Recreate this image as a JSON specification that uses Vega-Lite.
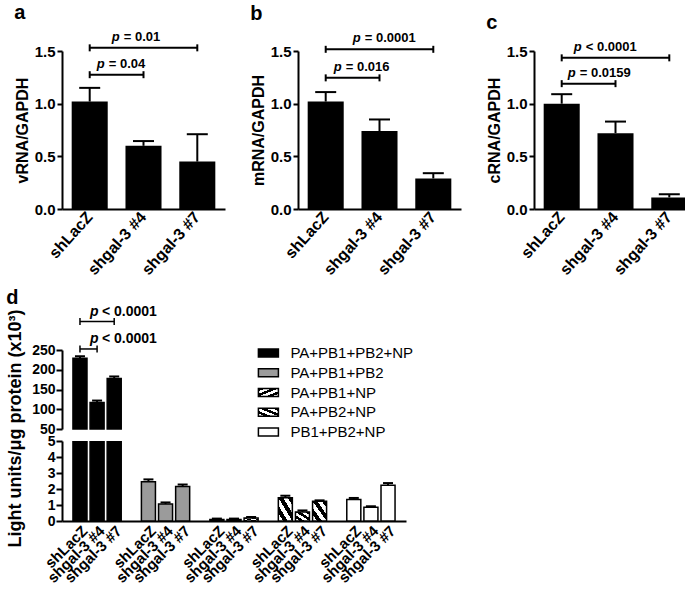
{
  "$schema": "https://vega.github.io/schema/vega-lite/v6.json",
  "padding": {"left": 6, "top": 2, "right": 0, "bottom": 0},
  "spacing": 9,
  "datasets": {
    "rna": [
      {"panel": "a", "sample": "shLacZ", "value": 1.02, "upper": 1.15},
      {"panel": "a", "sample": "shgal-3 #4", "value": 0.6, "upper": 0.645},
      {"panel": "a", "sample": "shgal-3 #7", "value": 0.45, "upper": 0.71},
      {"panel": "b", "sample": "shLacZ", "value": 1.02, "upper": 1.11},
      {"panel": "b", "sample": "shgal-3 #4", "value": 0.74, "upper": 0.85},
      {"panel": "b", "sample": "shgal-3 #7", "value": 0.29, "upper": 0.34},
      {"panel": "c", "sample": "shLacZ", "value": 1.0, "upper": 1.09},
      {"panel": "c", "sample": "shgal-3 #4", "value": 0.72, "upper": 0.83},
      {"panel": "c", "sample": "shgal-3 #7", "value": 0.11, "upper": 0.14}
    ],
    "brk": [
      {"panel": "a", "from": "shLacZ", "to": "shgal-3 #4", "level": 1.275, "label": "= 0.04", "kind": "adj"},
      {"panel": "a", "from": "shLacZ", "to": "shgal-3 #7", "level": 1.53, "label": "= 0.01", "kind": "wide"},
      {"panel": "b", "from": "shLacZ", "to": "shgal-3 #4", "level": 1.245, "label": "= 0.016", "kind": "adj"},
      {"panel": "b", "from": "shLacZ", "to": "shgal-3 #7", "level": 1.516, "label": "= 0.0001", "kind": "wide"},
      {"panel": "c", "from": "shLacZ", "to": "shgal-3 #4", "level": 1.19, "label": "= 0.0159", "kind": "adj"},
      {"panel": "c", "from": "shLacZ", "to": "shgal-3 #7", "level": 1.435, "label": "< 0.0001", "kind": "wide"}
    ],
    "lum": [
      {"mix": "PA+PB1+PB2+NP", "sample": "shLacZ", "bar": "PA+PB1+PB2+NP|shLacZ", "value": 229, "upper": 234},
      {"mix": "PA+PB1+PB2+NP", "sample": "shgal-3 #4", "bar": "PA+PB1+PB2+NP|shgal-3 #4", "value": 117, "upper": 122},
      {"mix": "PA+PB1+PB2+NP", "sample": "shgal-3 #7", "bar": "PA+PB1+PB2+NP|shgal-3 #7", "value": 178, "upper": 183},
      {"mix": "PA+PB1+PB2", "sample": "shLacZ", "bar": "PA+PB1+PB2|shLacZ", "value": 2.46, "upper": 2.6},
      {"mix": "PA+PB1+PB2", "sample": "shgal-3 #4", "bar": "PA+PB1+PB2|shgal-3 #4", "value": 1.06, "upper": 1.16},
      {"mix": "PA+PB1+PB2", "sample": "shgal-3 #7", "bar": "PA+PB1+PB2|shgal-3 #7", "value": 2.15, "upper": 2.28},
      {"mix": "PA+PB1+NP", "sample": "shLacZ", "bar": "PA+PB1+NP|shLacZ", "value": 0.1, "upper": 0.15},
      {"mix": "PA+PB1+NP", "sample": "shgal-3 #4", "bar": "PA+PB1+NP|shgal-3 #4", "value": 0.1, "upper": 0.15},
      {"mix": "PA+PB1+NP", "sample": "shgal-3 #7", "bar": "PA+PB1+NP|shgal-3 #7", "value": 0.18, "upper": 0.25},
      {"mix": "PA+PB2+NP", "sample": "shLacZ", "bar": "PA+PB2+NP|shLacZ", "value": 1.46, "upper": 1.58},
      {"mix": "PA+PB2+NP", "sample": "shgal-3 #4", "bar": "PA+PB2+NP|shgal-3 #4", "value": 0.57, "upper": 0.66},
      {"mix": "PA+PB2+NP", "sample": "shgal-3 #7", "bar": "PA+PB2+NP|shgal-3 #7", "value": 1.23, "upper": 1.29},
      {"mix": "PB1+PB2+NP", "sample": "shLacZ", "bar": "PB1+PB2+NP|shLacZ", "value": 1.34, "upper": 1.44},
      {"mix": "PB1+PB2+NP", "sample": "shgal-3 #4", "bar": "PB1+PB2+NP|shgal-3 #4", "value": 0.86, "upper": 0.92},
      {"mix": "PB1+PB2+NP", "sample": "shgal-3 #7", "bar": "PB1+PB2+NP|shgal-3 #7", "value": 2.23, "upper": 2.37}
    ],
    "lbrk": [
      {"from": "PA+PB1+PB2+NP|shLacZ", "to": "PA+PB1+PB2+NP|shgal-3 #4", "level": 252.6, "label": "< 0.0001"},
      {"from": "PA+PB1+PB2+NP|shLacZ", "to": "PA+PB1+PB2+NP|shgal-3 #7", "level": 322, "label": "< 0.0001"}
    ],
    "mixes": [
      {"mix": "PA+PB1+PB2+NP"},
      {"mix": "PA+PB1+PB2"},
      {"mix": "PA+PB1+NP"},
      {"mix": "PA+PB2+NP"},
      {"mix": "PB1+PB2+NP"}
    ]
  },
  "vconcat": [
    {
      "spacing": 25,
      "hconcat": [
        {
          "title": "a",
          "width": 163, "height": 158,
          "layer": [
            {"data": {"name": "rna"}, "transform": [{"filter": "datum.panel === 'a'"}],
             "mark": {"type": "bar", "color": "black"},
             "encoding": {
               "x": {"field": "sample", "type": "nominal", "scale": {"domain": ["shLacZ", "shgal-3 #4", "shgal-3 #7"], "paddingInner": 0.33, "paddingOuter": 0.18}, "axis": {"title": null, "ticks": false, "labelAngle": -48, "labelFontSize": 16, "labelPadding": 5}},
               "y": {"field": "value", "type": "quantitative", "scale": {"domain": [0, 1.5], "nice": false}, "axis": {"title": "vRNA/GAPDH", "values": [0, 0.5, 1, 1.5], "format": ".1f", "labelFontSize": 15, "tickSize": 5, "labelPadding": 2, "titleFontSize": 16, "titlePadding": 4}}
             }},
            {"data": {"name": "rna"}, "transform": [{"filter": "datum.panel === 'a'"}],
             "mark": {"type": "rule", "color": "black", "strokeWidth": 2},
             "encoding": {"x": {"field": "sample", "type": "nominal"}, "y": {"field": "value", "type": "quantitative"}, "y2": {"field": "upper"}}},
            {"data": {"name": "rna"}, "transform": [{"filter": "datum.panel === 'a'"}],
             "mark": {"type": "tick", "color": "black", "size": 21, "thickness": 2, "opacity": 1},
             "encoding": {"x": {"field": "sample", "type": "nominal"}, "y": {"field": "upper", "type": "quantitative"}}},
            {"data": {"name": "brk"}, "transform": [{"filter": "datum.panel === 'a'"}],
             "mark": {"type": "rule", "color": "black", "strokeWidth": 2},
             "encoding": {"x": {"field": "from", "type": "nominal"}, "x2": {"field": "to"}, "y": {"field": "level", "type": "quantitative"}}},
            {"data": {"name": "brk"}, "transform": [{"filter": "datum.panel === 'a'"}, {"fold": ["from", "to"], "as": ["end", "cat"]}],
             "mark": {"type": "rule", "color": "black", "strokeWidth": 2, "yOffset": -3.5, "y2Offset": 3.5},
             "encoding": {"x": {"field": "cat", "type": "nominal"}, "y": {"field": "level", "type": "quantitative"}, "y2": {"field": "level"}}},
            {"data": {"name": "brk"}, "transform": [{"filter": "datum.panel === 'a' && datum.kind === 'adj'"}],
             "mark": {"type": "text", "text": "p", "fontStyle": "italic", "fontWeight": "bold", "fontSize": 13, "align": "left", "baseline": "alphabetic", "dx": 7, "dy": -7},
             "encoding": {"x": {"field": "from", "type": "nominal"}, "y": {"field": "level", "type": "quantitative"}}},
            {"data": {"name": "brk"}, "transform": [{"filter": "datum.panel === 'a' && datum.kind === 'adj'"}],
             "mark": {"type": "text", "fontWeight": "bold", "fontSize": 13, "align": "left", "baseline": "alphabetic", "dx": 19, "dy": -7},
             "encoding": {"x": {"field": "from", "type": "nominal"}, "y": {"field": "level", "type": "quantitative"}, "text": {"field": "label"}}},
            {"data": {"name": "brk"}, "transform": [{"filter": "datum.panel === 'a' && datum.kind === 'wide'"}],
             "mark": {"type": "text", "text": "p", "fontStyle": "italic", "fontWeight": "bold", "fontSize": 13, "align": "left", "baseline": "alphabetic", "dx": 22, "dy": -7},
             "encoding": {"x": {"field": "from", "type": "nominal"}, "y": {"field": "level", "type": "quantitative"}}},
            {"data": {"name": "brk"}, "transform": [{"filter": "datum.panel === 'a' && datum.kind === 'wide'"}],
             "mark": {"type": "text", "fontWeight": "bold", "fontSize": 13, "align": "left", "baseline": "alphabetic", "dx": 34, "dy": -7},
             "encoding": {"x": {"field": "from", "type": "nominal"}, "y": {"field": "level", "type": "quantitative"}, "text": {"field": "label"}}}
          ]
        },
        {
          "title": "b",
          "width": 163, "height": 158,
          "layer": [
            {"data": {"name": "rna"}, "transform": [{"filter": "datum.panel === 'b'"}],
             "mark": {"type": "bar", "color": "black"},
             "encoding": {
               "x": {"field": "sample", "type": "nominal", "scale": {"domain": ["shLacZ", "shgal-3 #4", "shgal-3 #7"], "paddingInner": 0.33, "paddingOuter": 0.18}, "axis": {"title": null, "ticks": false, "labelAngle": -48, "labelFontSize": 16, "labelPadding": 5}},
               "y": {"field": "value", "type": "quantitative", "scale": {"domain": [0, 1.5], "nice": false}, "axis": {"title": "mRNA/GAPDH", "values": [0, 0.5, 1, 1.5], "format": ".1f", "labelFontSize": 15, "tickSize": 5, "labelPadding": 2, "titleFontSize": 16, "titlePadding": 4}}
             }},
            {"data": {"name": "rna"}, "transform": [{"filter": "datum.panel === 'b'"}],
             "mark": {"type": "rule", "color": "black", "strokeWidth": 2},
             "encoding": {"x": {"field": "sample", "type": "nominal"}, "y": {"field": "value", "type": "quantitative"}, "y2": {"field": "upper"}}},
            {"data": {"name": "rna"}, "transform": [{"filter": "datum.panel === 'b'"}],
             "mark": {"type": "tick", "color": "black", "size": 21, "thickness": 2, "opacity": 1},
             "encoding": {"x": {"field": "sample", "type": "nominal"}, "y": {"field": "upper", "type": "quantitative"}}},
            {"data": {"name": "brk"}, "transform": [{"filter": "datum.panel === 'b'"}],
             "mark": {"type": "rule", "color": "black", "strokeWidth": 2},
             "encoding": {"x": {"field": "from", "type": "nominal"}, "x2": {"field": "to"}, "y": {"field": "level", "type": "quantitative"}}},
            {"data": {"name": "brk"}, "transform": [{"filter": "datum.panel === 'b'"}, {"fold": ["from", "to"], "as": ["end", "cat"]}],
             "mark": {"type": "rule", "color": "black", "strokeWidth": 2, "yOffset": -3.5, "y2Offset": 3.5},
             "encoding": {"x": {"field": "cat", "type": "nominal"}, "y": {"field": "level", "type": "quantitative"}, "y2": {"field": "level"}}},
            {"data": {"name": "brk"}, "transform": [{"filter": "datum.panel === 'b' && datum.kind === 'adj'"}],
             "mark": {"type": "text", "text": "p", "fontStyle": "italic", "fontWeight": "bold", "fontSize": 13, "align": "left", "baseline": "alphabetic", "dx": 8, "dy": -7},
             "encoding": {"x": {"field": "from", "type": "nominal"}, "y": {"field": "level", "type": "quantitative"}}},
            {"data": {"name": "brk"}, "transform": [{"filter": "datum.panel === 'b' && datum.kind === 'adj'"}],
             "mark": {"type": "text", "fontWeight": "bold", "fontSize": 13, "align": "left", "baseline": "alphabetic", "dx": 20, "dy": -7},
             "encoding": {"x": {"field": "from", "type": "nominal"}, "y": {"field": "level", "type": "quantitative"}, "text": {"field": "label"}}},
            {"data": {"name": "brk"}, "transform": [{"filter": "datum.panel === 'b' && datum.kind === 'wide'"}],
             "mark": {"type": "text", "text": "p", "fontStyle": "italic", "fontWeight": "bold", "fontSize": 13, "align": "left", "baseline": "alphabetic", "dx": 27, "dy": -7},
             "encoding": {"x": {"field": "from", "type": "nominal"}, "y": {"field": "level", "type": "quantitative"}}},
            {"data": {"name": "brk"}, "transform": [{"filter": "datum.panel === 'b' && datum.kind === 'wide'"}],
             "mark": {"type": "text", "fontWeight": "bold", "fontSize": 13, "align": "left", "baseline": "alphabetic", "dx": 39, "dy": -7},
             "encoding": {"x": {"field": "from", "type": "nominal"}, "y": {"field": "level", "type": "quantitative"}, "text": {"field": "label"}}}
          ]
        },
        {
          "title": "c",
          "width": 163, "height": 158,
          "layer": [
            {"data": {"name": "rna"}, "transform": [{"filter": "datum.panel === 'c'"}],
             "mark": {"type": "bar", "color": "black"},
             "encoding": {
               "x": {"field": "sample", "type": "nominal", "scale": {"domain": ["shLacZ", "shgal-3 #4", "shgal-3 #7"], "paddingInner": 0.33, "paddingOuter": 0.18}, "axis": {"title": null, "ticks": false, "labelAngle": -48, "labelFontSize": 16, "labelPadding": 5}},
               "y": {"field": "value", "type": "quantitative", "scale": {"domain": [0, 1.5], "nice": false}, "axis": {"title": "cRNA/GAPDH", "values": [0, 0.5, 1, 1.5], "format": ".1f", "labelFontSize": 15, "tickSize": 5, "labelPadding": 2, "titleFontSize": 16, "titlePadding": 4}}
             }},
            {"data": {"name": "rna"}, "transform": [{"filter": "datum.panel === 'c'"}],
             "mark": {"type": "rule", "color": "black", "strokeWidth": 2},
             "encoding": {"x": {"field": "sample", "type": "nominal"}, "y": {"field": "value", "type": "quantitative"}, "y2": {"field": "upper"}}},
            {"data": {"name": "rna"}, "transform": [{"filter": "datum.panel === 'c'"}],
             "mark": {"type": "tick", "color": "black", "size": 21, "thickness": 2, "opacity": 1},
             "encoding": {"x": {"field": "sample", "type": "nominal"}, "y": {"field": "upper", "type": "quantitative"}}},
            {"data": {"name": "brk"}, "transform": [{"filter": "datum.panel === 'c'"}],
             "mark": {"type": "rule", "color": "black", "strokeWidth": 2},
             "encoding": {"x": {"field": "from", "type": "nominal"}, "x2": {"field": "to"}, "y": {"field": "level", "type": "quantitative"}}},
            {"data": {"name": "brk"}, "transform": [{"filter": "datum.panel === 'c'"}, {"fold": ["from", "to"], "as": ["end", "cat"]}],
             "mark": {"type": "rule", "color": "black", "strokeWidth": 2, "yOffset": -3.5, "y2Offset": 3.5},
             "encoding": {"x": {"field": "cat", "type": "nominal"}, "y": {"field": "level", "type": "quantitative"}, "y2": {"field": "level"}}},
            {"data": {"name": "brk"}, "transform": [{"filter": "datum.panel === 'c' && datum.kind === 'adj'"}],
             "mark": {"type": "text", "text": "p", "fontStyle": "italic", "fontWeight": "bold", "fontSize": 13, "align": "left", "baseline": "alphabetic", "dx": 6, "dy": -7},
             "encoding": {"x": {"field": "from", "type": "nominal"}, "y": {"field": "level", "type": "quantitative"}}},
            {"data": {"name": "brk"}, "transform": [{"filter": "datum.panel === 'c' && datum.kind === 'adj'"}],
             "mark": {"type": "text", "fontWeight": "bold", "fontSize": 13, "align": "left", "baseline": "alphabetic", "dx": 18, "dy": -7},
             "encoding": {"x": {"field": "from", "type": "nominal"}, "y": {"field": "level", "type": "quantitative"}, "text": {"field": "label"}}},
            {"data": {"name": "brk"}, "transform": [{"filter": "datum.panel === 'c' && datum.kind === 'wide'"}],
             "mark": {"type": "text", "text": "p", "fontStyle": "italic", "fontWeight": "bold", "fontSize": 13, "align": "left", "baseline": "alphabetic", "dx": 12, "dy": -7},
             "encoding": {"x": {"field": "from", "type": "nominal"}, "y": {"field": "level", "type": "quantitative"}}},
            {"data": {"name": "brk"}, "transform": [{"filter": "datum.panel === 'c' && datum.kind === 'wide'"}],
             "mark": {"type": "text", "fontWeight": "bold", "fontSize": 13, "align": "left", "baseline": "alphabetic", "dx": 24, "dy": -7},
             "encoding": {"x": {"field": "from", "type": "nominal"}, "y": {"field": "level", "type": "quantitative"}, "text": {"field": "label"}}}
          ]
        }
      ]
    },
    {
      "title": {"text": "d", "offset": -3},
      "spacing": 12,
      "bounds": "flush",
      "vconcat": [
        {
          "width": 344, "height": 79,
          "resolve": {"scale": {"x": "independent", "y": "independent"}},
          "layer": [
            {
              "layer": [
                {"data": {"name": "lum"}, "transform": [{"filter": "datum.value > 50"}],
                 "mark": {"type": "bar", "stroke": "black", "strokeWidth": 1.5},
                 "encoding": {
                   "x": {"field": "bar", "type": "nominal", "scale": {"domain": ["PA+PB1+PB2+NP|shLacZ", "PA+PB1+PB2+NP|shgal-3 #4", "PA+PB1+PB2+NP|shgal-3 #7", "gap1", "PA+PB1+PB2|shLacZ", "PA+PB1+PB2|shgal-3 #4", "PA+PB1+PB2|shgal-3 #7", "gap2", "PA+PB1+NP|shLacZ", "PA+PB1+NP|shgal-3 #4", "PA+PB1+NP|shgal-3 #7", "gap3", "PA+PB2+NP|shLacZ", "PA+PB2+NP|shgal-3 #4", "PA+PB2+NP|shgal-3 #7", "gap4", "PB1+PB2+NP|shLacZ", "PB1+PB2+NP|shgal-3 #4", "PB1+PB2+NP|shgal-3 #7"], "paddingInner": 0.18, "paddingOuter": 0.64}, "axis": null},
                   "y": {"field": "value", "type": "quantitative", "scale": {"domain": [50, 250], "zero": false, "nice": false}, "axis": {"title": null, "tickCount": 5, "labelFontSize": 14, "tickSize": 6, "labelPadding": 1, "labelOverlap": false, "labelFlush": false}},
                   "y2": {"datum": 50},
                   "fill": {"condition": [
                     {"test": "datum.mix === 'PA+PB1+PB2+NP'", "value": "black"},
                     {"test": "datum.mix === 'PA+PB1+PB2'", "value": "#9b9b9b"}
                   ], "value": "white"}
                 }},
                {"data": {"name": "lum"}, "transform": [{"filter": "datum.value > 50"}],
                 "mark": {"type": "rule", "color": "black", "strokeWidth": 2},
                 "encoding": {"x": {"field": "bar", "type": "nominal"}, "y": {"field": "value", "type": "quantitative"}, "y2": {"field": "upper"}}},
                {"data": {"name": "lum"}, "transform": [{"filter": "datum.value > 50"}],
                 "mark": {"type": "tick", "color": "black", "size": 10, "thickness": 2, "opacity": 1},
                 "encoding": {"x": {"field": "bar", "type": "nominal"}, "y": {"field": "upper", "type": "quantitative"}}},
                {"data": {"name": "lbrk"},
                 "mark": {"type": "rule", "color": "black", "strokeWidth": 1.5},
                 "encoding": {"x": {"field": "from", "type": "nominal"}, "x2": {"field": "to"}, "y": {"field": "level", "type": "quantitative"}}},
                {"data": {"name": "lbrk"}, "transform": [{"fold": ["from", "to"], "as": ["end", "cat"]}],
                 "mark": {"type": "rule", "color": "black", "strokeWidth": 1.5, "yOffset": -3.5, "y2Offset": 3.5},
                 "encoding": {"x": {"field": "cat", "type": "nominal"}, "y": {"field": "level", "type": "quantitative"}, "y2": {"field": "level"}}},
                {"data": {"name": "lbrk"},
                 "mark": {"type": "text", "text": "p", "fontStyle": "italic", "fontWeight": "bold", "fontSize": 14, "align": "left", "baseline": "alphabetic", "dx": 10, "dy": -6},
                 "encoding": {"x": {"field": "from", "type": "nominal"}, "y": {"field": "level", "type": "quantitative"}}},
                {"data": {"name": "lbrk"},
                 "mark": {"type": "text", "fontWeight": "bold", "fontSize": 14, "align": "left", "baseline": "alphabetic", "dx": 22, "dy": -6},
                 "encoding": {"x": {"field": "from", "type": "nominal"}, "y": {"field": "level", "type": "quantitative"}, "text": {"field": "label"}}}
              ]
            },
            {
              "data": {"name": "mixes"},
              "layer": [
                {"mark": {"type": "point", "shape": "M-1,-0.4H1V0.4H-1Z", "size": 400, "filled": true, "opacity": 1, "stroke": "black", "strokeWidth": 1.5, "yOffset": 3},
                 "encoding": {
                   "x": {"datum": 0.6, "type": "quantitative", "scale": {"domain": [0, 1]}, "axis": null},
                   "y": {"field": "mix", "type": "nominal", "sort": null, "scale": {"type": "point", "padding": 0, "domain": ["PA+PB1+PB2+NP", "PA+PB1+PB2", "PA+PB1+NP", "PA+PB2+NP", "PB1+PB2+NP"]}, "axis": null},
                   "fill": {"condition": [
                     {"test": "datum.mix === 'PA+PB1+PB2+NP'", "value": "black"},
                     {"test": "datum.mix === 'PA+PB1+PB2'", "value": "#9b9b9b"},
                     {"test": "datum.mix === 'PA+PB1+NP'", "value": {"gradient": "linear", "x1": 0, "y1": 0, "x2": 1, "y2": 1, "stops": [{"offset": 0, "color": "black"}, {"offset": 0.1667, "color": "black"}, {"offset": 0.1667, "color": "white"}, {"offset": 0.3333, "color": "white"}, {"offset": 0.3333, "color": "black"}, {"offset": 0.5, "color": "black"}, {"offset": 0.5, "color": "white"}, {"offset": 0.6667, "color": "white"}, {"offset": 0.6667, "color": "black"}, {"offset": 0.8333, "color": "black"}, {"offset": 0.8333, "color": "white"}, {"offset": 1, "color": "white"}]}},
                     {"test": "datum.mix === 'PA+PB2+NP'", "value": {"gradient": "linear", "x1": 1, "y1": 0, "x2": 0, "y2": 1, "stops": [{"offset": 0, "color": "black"}, {"offset": 0.1667, "color": "black"}, {"offset": 0.1667, "color": "white"}, {"offset": 0.3333, "color": "white"}, {"offset": 0.3333, "color": "black"}, {"offset": 0.5, "color": "black"}, {"offset": 0.5, "color": "white"}, {"offset": 0.6667, "color": "white"}, {"offset": 0.6667, "color": "black"}, {"offset": 0.8333, "color": "black"}, {"offset": 0.8333, "color": "white"}, {"offset": 1, "color": "white"}]}}
                   ], "value": "white"}
                 }},
                {"mark": {"type": "text", "align": "left", "baseline": "middle", "dx": 22, "dy": 3, "fontSize": 15, "color": "black"},
                 "encoding": {
                   "x": {"datum": 0.6, "type": "quantitative"},
                   "y": {"field": "mix", "type": "nominal", "sort": null},
                   "text": {"field": "mix"}
                 }}
              ]
            }
          ]
        },
        {
          "width": 344, "height": 80,
          "layer": [
            {"data": {"name": "lum"},
             "mark": {"type": "bar", "stroke": "black", "strokeWidth": 1.5, "clip": true},
             "encoding": {
               "x": {"field": "bar", "type": "nominal", "scale": {"domain": ["PA+PB1+PB2+NP|shLacZ", "PA+PB1+PB2+NP|shgal-3 #4", "PA+PB1+PB2+NP|shgal-3 #7", "gap1", "PA+PB1+PB2|shLacZ", "PA+PB1+PB2|shgal-3 #4", "PA+PB1+PB2|shgal-3 #7", "gap2", "PA+PB1+NP|shLacZ", "PA+PB1+NP|shgal-3 #4", "PA+PB1+NP|shgal-3 #7", "gap3", "PA+PB2+NP|shLacZ", "PA+PB2+NP|shgal-3 #4", "PA+PB2+NP|shgal-3 #7", "gap4", "PB1+PB2+NP|shLacZ", "PB1+PB2+NP|shgal-3 #4", "PB1+PB2+NP|shgal-3 #7"], "paddingInner": 0.18, "paddingOuter": 0.64},
                     "axis": {"title": null, "ticks": false, "labelAngle": -45, "labelFontSize": 15, "labelPadding": 2, "labelOverlap": false, "labelExpr": "split(datum.label, '|')[1] || ''"}},
               "y": {"field": "value", "type": "quantitative", "scale": {"domain": [0, 5], "nice": false}, "axis": {"title": "Light units/μg protein (x10³)", "tickCount": 5, "labelFontSize": 14, "tickSize": 6, "labelPadding": 1, "labelOverlap": false, "labelFlush": false, "titleFontSize": 18, "titlePadding": 23, "titleY": -13}},
               "fill": {"condition": [
                 {"test": "datum.mix === 'PA+PB1+PB2+NP'", "value": "black"},
                 {"test": "datum.mix === 'PA+PB1+PB2'", "value": "#9b9b9b"},
                 {"test": "datum.mix === 'PA+PB1+NP'", "value": {"gradient": "linear", "x1": 0, "y1": 0, "x2": 1, "y2": 1, "stops": [{"offset": 0, "color": "black"}, {"offset": 0.1667, "color": "black"}, {"offset": 0.1667, "color": "white"}, {"offset": 0.3333, "color": "white"}, {"offset": 0.3333, "color": "black"}, {"offset": 0.5, "color": "black"}, {"offset": 0.5, "color": "white"}, {"offset": 0.6667, "color": "white"}, {"offset": 0.6667, "color": "black"}, {"offset": 0.8333, "color": "black"}, {"offset": 0.8333, "color": "white"}, {"offset": 1, "color": "white"}]}},
                 {"test": "datum.mix === 'PA+PB2+NP'", "value": {"gradient": "linear", "x1": 1, "y1": 0, "x2": 0, "y2": 1, "stops": [{"offset": 0, "color": "black"}, {"offset": 0.1667, "color": "black"}, {"offset": 0.1667, "color": "white"}, {"offset": 0.3333, "color": "white"}, {"offset": 0.3333, "color": "black"}, {"offset": 0.5, "color": "black"}, {"offset": 0.5, "color": "white"}, {"offset": 0.6667, "color": "white"}, {"offset": 0.6667, "color": "black"}, {"offset": 0.8333, "color": "black"}, {"offset": 0.8333, "color": "white"}, {"offset": 1, "color": "white"}]}}
               ], "value": "white"}
             }},
            {"data": {"name": "lum"}, "transform": [{"filter": "datum.value < 50"}],
             "mark": {"type": "rule", "color": "black", "strokeWidth": 2},
             "encoding": {"x": {"field": "bar", "type": "nominal"}, "y": {"field": "value", "type": "quantitative"}, "y2": {"field": "upper"}}},
            {"data": {"name": "lum"}, "transform": [{"filter": "datum.value < 50"}],
             "mark": {"type": "tick", "color": "black", "size": 10, "thickness": 2, "opacity": 1},
             "encoding": {"x": {"field": "bar", "type": "nominal"}, "y": {"field": "upper", "type": "quantitative"}}}
          ]
        }
      ]
    }
  ],
  "config": {
    "view": {"stroke": null},
    "font": "Liberation Sans",
    "axis": {"grid": false, "domainColor": "black", "domainWidth": 2, "tickColor": "black", "tickWidth": 2, "labelColor": "black", "titleColor": "black", "labelFontWeight": "bold", "titleFontWeight": "bold"},
    "title": {"fontSize": 20, "fontWeight": "bold", "anchor": "start", "color": "black", "offset": 8},
    "text": {"color": "black"}
  }
}
